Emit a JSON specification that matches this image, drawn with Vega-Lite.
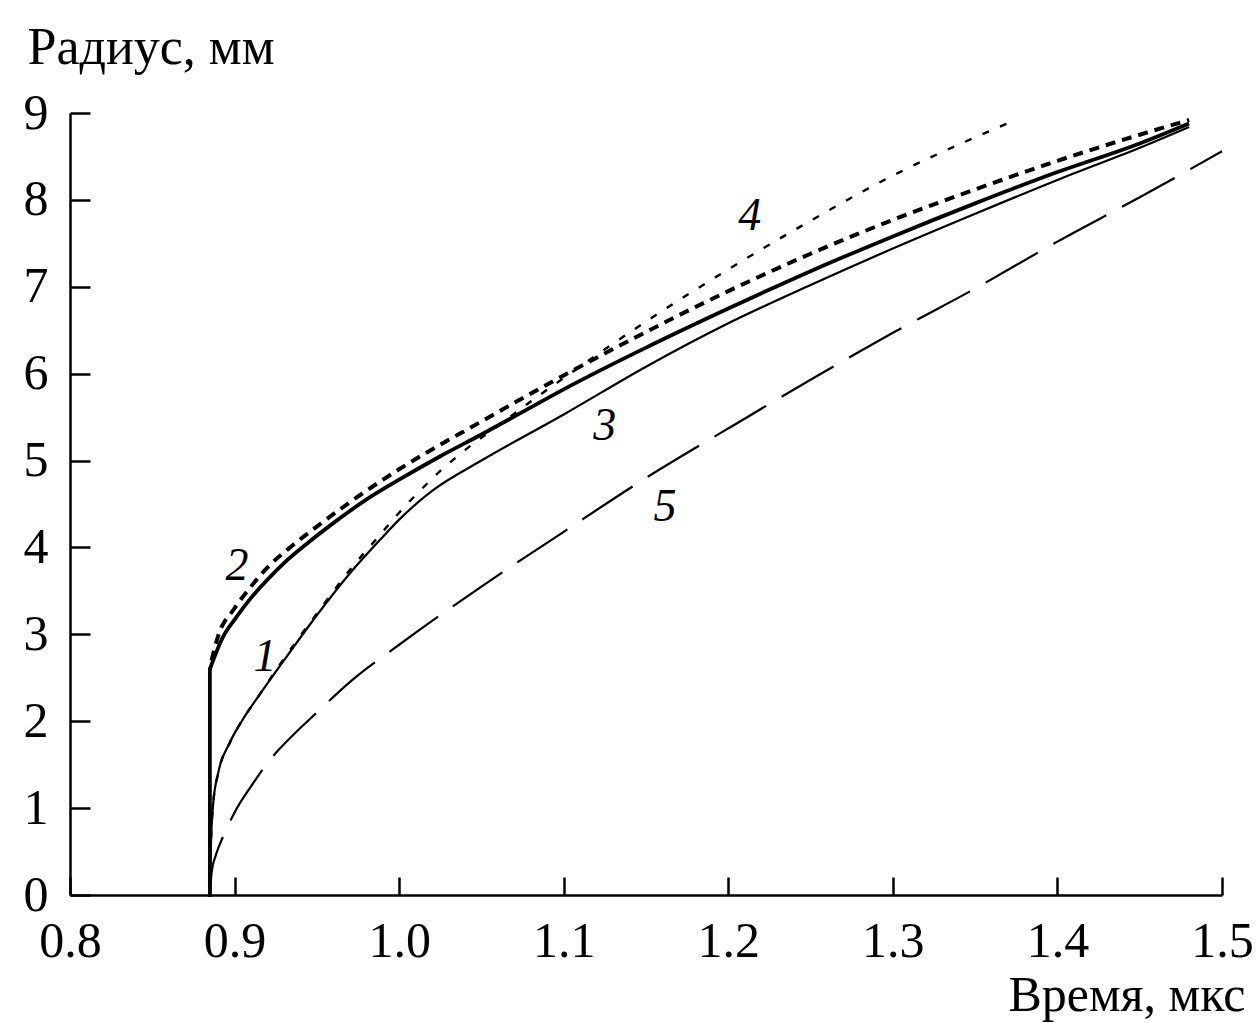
{
  "$schema": "https://vega.github.io/schema/vega-lite/v6.json",
  "autosize": "none",
  "width": 1152,
  "height": 782,
  "padding": {"left": 70, "top": 113, "right": 34, "bottom": 128},
  "background": "white",
  "datasets": {
    "curves": [
      {"s": "SV", "i": 0, "t": 0.885, "r": 0},
      {"s": "SV", "i": 1, "t": 0.885, "r": 2.6},
      {"s": "S", "i": 1, "t": 0.885, "r": 2.6},
      {"s": "S", "i": 2, "t": 0.893, "r": 2.97},
      {"s": "S", "i": 3, "t": 0.9, "r": 3.17},
      {"s": "S", "i": 4, "t": 0.91, "r": 3.42},
      {"s": "S", "i": 5, "t": 0.92, "r": 3.63},
      {"s": "S", "i": 6, "t": 0.93, "r": 3.82},
      {"s": "S", "i": 7, "t": 0.945, "r": 4.06},
      {"s": "S", "i": 8, "t": 0.96, "r": 4.28},
      {"s": "S", "i": 9, "t": 0.98, "r": 4.55},
      {"s": "S", "i": 10, "t": 1.0, "r": 4.78},
      {"s": "S", "i": 11, "t": 1.025, "r": 5.05},
      {"s": "S", "i": 12, "t": 1.05, "r": 5.3},
      {"s": "S", "i": 13, "t": 1.075, "r": 5.56},
      {"s": "S", "i": 14, "t": 1.1, "r": 5.82},
      {"s": "S", "i": 15, "t": 1.15, "r": 6.3},
      {"s": "S", "i": 16, "t": 1.2, "r": 6.75},
      {"s": "S", "i": 17, "t": 1.25, "r": 7.18},
      {"s": "S", "i": 18, "t": 1.3, "r": 7.58},
      {"s": "S", "i": 19, "t": 1.35, "r": 7.96},
      {"s": "S", "i": 20, "t": 1.4, "r": 8.32},
      {"s": "S", "i": 21, "t": 1.45, "r": 8.65},
      {"s": "S", "i": 22, "t": 1.48, "r": 8.88},

      {"s": "D2", "i": 0, "t": 0.886, "r": 2.7},
      {"s": "D2", "i": 1, "t": 0.89, "r": 2.98},
      {"s": "D2", "i": 2, "t": 0.9, "r": 3.3},
      {"s": "D2", "i": 3, "t": 0.91, "r": 3.55},
      {"s": "D2", "i": 4, "t": 0.92, "r": 3.77},
      {"s": "D2", "i": 5, "t": 0.935, "r": 4.02},
      {"s": "D2", "i": 6, "t": 0.95, "r": 4.24},
      {"s": "D2", "i": 7, "t": 0.97, "r": 4.52},
      {"s": "D2", "i": 8, "t": 1.0, "r": 4.9},
      {"s": "D2", "i": 9, "t": 1.05, "r": 5.45},
      {"s": "D2", "i": 10, "t": 1.1, "r": 5.98},
      {"s": "D2", "i": 11, "t": 1.15, "r": 6.48},
      {"s": "D2", "i": 12, "t": 1.2, "r": 6.95},
      {"s": "D2", "i": 13, "t": 1.25, "r": 7.38},
      {"s": "D2", "i": 14, "t": 1.3, "r": 7.77},
      {"s": "D2", "i": 15, "t": 1.35, "r": 8.12},
      {"s": "D2", "i": 16, "t": 1.4, "r": 8.45},
      {"s": "D2", "i": 17, "t": 1.45, "r": 8.75},
      {"s": "D2", "i": 18, "t": 1.48, "r": 8.92},

      {"s": "T3", "i": 0, "t": 0.885, "r": 0},
      {"s": "T3", "i": 1, "t": 0.8855, "r": 0.5},
      {"s": "T3", "i": 2, "t": 0.887, "r": 1.05},
      {"s": "T3", "i": 3, "t": 0.89, "r": 1.4},
      {"s": "T3", "i": 4, "t": 0.897, "r": 1.75},
      {"s": "T3", "i": 5, "t": 0.905, "r": 2.02},
      {"s": "T3", "i": 6, "t": 0.915, "r": 2.3},
      {"s": "T3", "i": 7, "t": 0.93, "r": 2.7},
      {"s": "T3", "i": 8, "t": 0.95, "r": 3.22},
      {"s": "T3", "i": 9, "t": 0.97, "r": 3.7},
      {"s": "T3", "i": 10, "t": 0.99, "r": 4.12},
      {"s": "T3", "i": 11, "t": 1.0, "r": 4.32},
      {"s": "T3", "i": 12, "t": 1.02, "r": 4.65},
      {"s": "T3", "i": 13, "t": 1.05, "r": 5.0},
      {"s": "T3", "i": 14, "t": 1.1, "r": 5.53},
      {"s": "T3", "i": 15, "t": 1.15, "r": 6.08},
      {"s": "T3", "i": 16, "t": 1.2, "r": 6.58},
      {"s": "T3", "i": 17, "t": 1.25, "r": 7.02},
      {"s": "T3", "i": 18, "t": 1.3, "r": 7.44},
      {"s": "T3", "i": 19, "t": 1.35, "r": 7.84},
      {"s": "T3", "i": 20, "t": 1.4, "r": 8.23},
      {"s": "T3", "i": 21, "t": 1.45, "r": 8.6},
      {"s": "T3", "i": 22, "t": 1.48, "r": 8.84},

      {"s": "P4", "i": 0, "t": 0.885, "r": 0},
      {"s": "P4", "i": 1, "t": 0.8855, "r": 0.5},
      {"s": "P4", "i": 2, "t": 0.887, "r": 1.05},
      {"s": "P4", "i": 3, "t": 0.89, "r": 1.4},
      {"s": "P4", "i": 4, "t": 0.897, "r": 1.75},
      {"s": "P4", "i": 5, "t": 0.905, "r": 2.02},
      {"s": "P4", "i": 6, "t": 0.915, "r": 2.3},
      {"s": "P4", "i": 7, "t": 0.93, "r": 2.72},
      {"s": "P4", "i": 8, "t": 0.95, "r": 3.24},
      {"s": "P4", "i": 9, "t": 0.97, "r": 3.74},
      {"s": "P4", "i": 10, "t": 0.99, "r": 4.18},
      {"s": "P4", "i": 11, "t": 1.0, "r": 4.4},
      {"s": "P4", "i": 12, "t": 1.013, "r": 4.66},
      {"s": "P4", "i": 13, "t": 1.025, "r": 4.88},
      {"s": "P4", "i": 14, "t": 1.04, "r": 5.12},
      {"s": "P4", "i": 15, "t": 1.06, "r": 5.4},
      {"s": "P4", "i": 16, "t": 1.08, "r": 5.68},
      {"s": "P4", "i": 17, "t": 1.1, "r": 5.95},
      {"s": "P4", "i": 18, "t": 1.125, "r": 6.28},
      {"s": "P4", "i": 19, "t": 1.15, "r": 6.6},
      {"s": "P4", "i": 20, "t": 1.2, "r": 7.2},
      {"s": "P4", "i": 21, "t": 1.25, "r": 7.76},
      {"s": "P4", "i": 22, "t": 1.3, "r": 8.28},
      {"s": "P4", "i": 23, "t": 1.35, "r": 8.72},
      {"s": "P4", "i": 24, "t": 1.372, "r": 8.9},

      {"s": "L5", "i": 0, "t": 0.885, "r": 0},
      {"s": "L5", "i": 1, "t": 0.886, "r": 0.25},
      {"s": "L5", "i": 2, "t": 0.889, "r": 0.48},
      {"s": "L5", "i": 3, "t": 0.893, "r": 0.67},
      {"s": "L5", "i": 4, "t": 0.9, "r": 0.95},
      {"s": "L5", "i": 5, "t": 0.91, "r": 1.25},
      {"s": "L5", "i": 6, "t": 0.92, "r": 1.52},
      {"s": "L5", "i": 7, "t": 0.935, "r": 1.83},
      {"s": "L5", "i": 8, "t": 0.95, "r": 2.1},
      {"s": "L5", "i": 9, "t": 0.97, "r": 2.45},
      {"s": "L5", "i": 10, "t": 1.0, "r": 2.88},
      {"s": "L5", "i": 11, "t": 1.05, "r": 3.55},
      {"s": "L5", "i": 12, "t": 1.1, "r": 4.18},
      {"s": "L5", "i": 13, "t": 1.15, "r": 4.8},
      {"s": "L5", "i": 14, "t": 1.2, "r": 5.37},
      {"s": "L5", "i": 15, "t": 1.25, "r": 5.93},
      {"s": "L5", "i": 16, "t": 1.3, "r": 6.47},
      {"s": "L5", "i": 17, "t": 1.35, "r": 6.98},
      {"s": "L5", "i": 18, "t": 1.4, "r": 7.52},
      {"s": "L5", "i": 19, "t": 1.45, "r": 8.03},
      {"s": "L5", "i": 20, "t": 1.5, "r": 8.56}
    ],
    "labels": [
      {"lab": "1", "t": 0.9185, "r": 2.74},
      {"lab": "2", "t": 0.9015, "r": 3.79},
      {"lab": "3", "t": 1.125, "r": 5.4},
      {"lab": "4", "t": 1.213, "r": 7.82},
      {"lab": "5", "t": 1.1615, "r": 4.46}
    ]
  },
  "encoding": {
    "x": {
      "field": "t", "type": "quantitative",
      "scale": {"domain": [0.8, 1.5], "nice": false, "zero": false},
      "axis": {
        "values": [0.8, 0.9, 1.0, 1.1, 1.2, 1.3, 1.4, 1.5],
        "format": ".1f",
        "grid": false,
        "tickSize": -18,
        "labelPadding": 39,
        "title": "Время, мкс",
        "titleAngle": 0,
        "titleAlign": "right",
        "titleBaseline": "middle",
        "titleX": 1175,
        "titleY": 100,
        "titleFontSize": 50
      }
    },
    "y": {
      "field": "r", "type": "quantitative",
      "scale": {"domain": [0, 9], "nice": false},
      "axis": {
        "values": [0, 1, 2, 3, 4, 5, 6, 7, 8, 9],
        "grid": false,
        "tickSize": -20,
        "labelPadding": 42,
        "title": "Радиус, мм",
        "titleAngle": 0,
        "titleAlign": "left",
        "titleBaseline": "middle",
        "titleX": -43,
        "titleY": -66
      }
    }
  },
  "layer": [
    {
      "data": {"name": "curves"},
      "transform": [{"filter": "datum.s === 'L5'"}],
      "mark": {"type": "line", "color": "black", "strokeWidth": 2.2, "strokeDash": [60, 18], "interpolate": "monotone", "clip": false},
      "encoding": {"order": {"field": "i", "type": "quantitative"}}
    },
    {
      "data": {"name": "curves"},
      "transform": [{"filter": "datum.s === 'T3'"}],
      "mark": {"type": "line", "color": "black", "strokeWidth": 2.2, "interpolate": "monotone"},
      "encoding": {"order": {"field": "i", "type": "quantitative"}}
    },
    {
      "data": {"name": "curves"},
      "transform": [{"filter": "datum.s === 'P4'"}],
      "mark": {"type": "line", "color": "black", "strokeWidth": 2.4, "strokeDash": [7, 12], "interpolate": "monotone"},
      "encoding": {"order": {"field": "i", "type": "quantitative"}}
    },
    {
      "data": {"name": "curves"},
      "transform": [{"filter": "datum.s === 'SV'"}],
      "mark": {"type": "line", "color": "black", "strokeWidth": 3.8, "strokeCap": "square"},
      "encoding": {"order": {"field": "i", "type": "quantitative"}}
    },
    {
      "data": {"name": "curves"},
      "transform": [{"filter": "datum.s === 'S'"}],
      "mark": {"type": "line", "color": "black", "strokeWidth": 3.8, "interpolate": "monotone"},
      "encoding": {"order": {"field": "i", "type": "quantitative"}}
    },
    {
      "data": {"name": "curves"},
      "transform": [{"filter": "datum.s === 'D2'"}],
      "mark": {"type": "line", "color": "black", "strokeWidth": 4, "strokeDash": [10, 7], "interpolate": "monotone"},
      "encoding": {"order": {"field": "i", "type": "quantitative"}}
    },
    {
      "data": {"name": "labels"},
      "mark": {"type": "text", "font": "Liberation Serif", "fontSize": 46, "fontStyle": "italic", "color": "black", "align": "center", "baseline": "middle"},
      "encoding": {"text": {"field": "lab"}}
    }
  ],
  "config": {
    "view": {"stroke": null},
    "axis": {
      "domainColor": "black",
      "domainWidth": 2.5,
      "tickColor": "black",
      "tickWidth": 2.5,
      "labelFont": "Liberation Serif",
      "labelFontSize": 50,
      "labelColor": "black",
      "labelOverlap": false,
      "labelFlush": false,
      "labelBound": false,
      "titleFont": "Liberation Serif",
      "titleFontSize": 52,
      "titleFontWeight": "normal",
      "titleColor": "black"
    }
  }
}
